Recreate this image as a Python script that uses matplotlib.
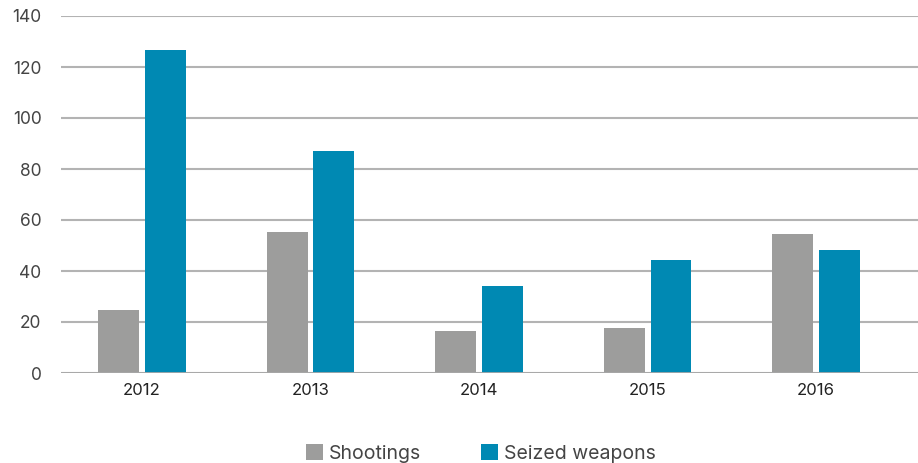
import matplotlib.pyplot as plt
import numpy as np

years = ["2012", "2013", "2014", "2015", "2016"]
shootings = [24.7, 55.3, 16.4, 17.5, 54.4]
seized_weapons = [126.7, 87.0, 34.0, 44.2, 48.1]

GREY = "#9d9d9c"
BLUE = "#0089b3"

plt.rcParams["font.family"] = ["Inter", "DejaVu Sans"]

fig = plt.figure(figsize=(9.18, 4.63), dpi=100)
ax = fig.add_axes([61/918, 90/463, 857/918, 357/463])

x = np.arange(len(years))
w = 0.243
off = 0.139
ax.bar(x - off, shootings, w, color=GREY, label="Shootings", zorder=3)
ax.bar(x + off, seized_weapons, w, color=BLUE, label="Seized weapons", zorder=3)

ax.set_ylim(0, 140)
ax.set_xlim(-0.481, 4.605)
ax.set_yticks(range(0, 141, 20))
ax.set_xticks(x)
ax.set_xticklabels(years)
ax.yaxis.grid(True, color="#b3b3b3", linewidth=1.5, zorder=0)
ax.set_axisbelow(True)
for s in ax.spines.values():
    s.set_visible(False)
ax.axhline(0, color="#a8a8a8", linewidth=2, zorder=4)
ax.tick_params(axis="y", length=0, pad=14, labelsize=12.5, labelcolor="#444444")
ax.tick_params(axis="x", length=0, pad=7, labelsize=12, labelcolor="#222222")

fig.legend(loc="center", bbox_to_anchor=(0.524, 0.02), ncol=2, frameon=False,
           fontsize=14, handlelength=0.85, handleheight=0.85, columnspacing=3.1,
           handletextpad=0.3, labelcolor="#444444")

fig.savefig("out.png", dpi=100)
